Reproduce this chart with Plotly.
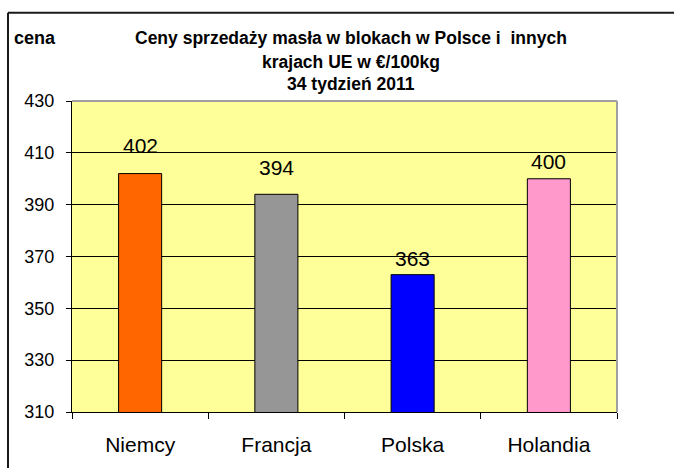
import plotly.graph_objects as go

# ---- data ----
categories = ["Niemcy", "Francja", "Polska", "Holandia"]
prices = [402, 394, 363, 400]
bar_colors = ["#FF6600", "#969696", "#0000FF", "#FF99CC"]
y_ticks = [310, 330, 350, 370, 390, 410, 430]
title_lines = ["Ceny sprzedaży masła w blokach w Polsce i  innych",
               "krajach UE w €/100kg",
               "34 tydzień 2011"]
y_label = "cena"

# ---- style ----
W, H = 674, 468
# plot area in screen pixels
PX0, PX1, PY0, PY1 = 72, 617, 101, 416
ML, MT = PX0, PY0
MR, MB = W - PX1, H - PY1
PW, PH = W - ML - MR, H - MT - MB
FONT = "Liberation Sans, Arial, sans-serif"
label_shift = [15, 13, 3, 4]


def px_x(px):  # screen px -> paper
    return (px - ML) / PW


def px_y(py):
    return (MT + PH - py) / PH


fig = go.Figure()
fig.add_trace(go.Bar(
    x=categories, y=prices,
    marker=dict(color=bar_colors, line=dict(color="#000000", width=1)),
    hoverinfo="x+y",
))

annotations = []
for c, v, s in zip(categories, prices, label_shift):
    annotations.append(dict(x=c, y=v, xref="x", yref="y", text=str(v),
                            showarrow=False, yanchor="bottom", yshift=s,
                            font=dict(family=FONT, size=21, color="#000000")))

title_y = [37, 61, 84]
for t, yy in zip(title_lines, title_y):
    annotations.append(dict(x=px_x(351), y=px_y(yy), xref="paper", yref="paper",
                            text="<b>" + t + "</b>", showarrow=False,
                            xanchor="center", yanchor="middle",
                            font=dict(family=FONT, size=17.5, color="#000000")))
annotations.append(dict(x=px_x(12), y=px_y(37), xref="paper", yref="paper",
                        text="<b>" + y_label + "</b>", showarrow=False,
                        xanchor="left", yanchor="middle",
                        font=dict(family=FONT, size=18, color="#000000")))

shapes = [
    # outer frame (top & left visible)
    dict(type="line", xref="paper", yref="paper",
         x0=px_x(8), y0=px_y(11.5), x1=px_x(690), y1=px_y(11.5),
         line=dict(color="#1a1a1a", width=2)),
    dict(type="line", xref="paper", yref="paper",
         x0=px_x(8), y0=px_y(11.5), x1=px_x(8), y1=px_y(490),
         line=dict(color="#1a1a1a", width=2)),
    # plot area top & right border (grey)
    dict(type="line", xref="paper", yref="paper", x0=0, y0=1, x1=1, y1=1,
         line=dict(color="#A0A0A0", width=2), layer="above"),
    dict(type="line", xref="paper", yref="paper", x0=1, y0=0, x1=1, y1=1,
         line=dict(color="#A0A0A0", width=2), layer="above"),
]

fig.update_layout(
    width=W, height=H,
    margin=dict(l=ML, r=MR, t=MT, b=MB, pad=0),
    paper_bgcolor="#FFFFFF",
    plot_bgcolor="#FFFF99",
    showlegend=False,
    bargap=0.684,
    annotations=annotations,
    shapes=shapes,
    font=dict(family=FONT, color="#000000"),
)
fig.update_xaxes(
    type="category",
    showline=True, linecolor="#000000", linewidth=1,
    ticks="outside", ticklen=6, tickcolor="#000000", tickwidth=1,
    tickson="boundaries",
    showgrid=False,
    tickfont=dict(family=FONT, size=21, color="#000000"),
    ticklabelstandoff=14,
)
fig.update_yaxes(
    range=[310, 430], tickvals=y_ticks,
    showline=True, linecolor="#000000", linewidth=1,
    ticks="outside", ticklen=5, tickcolor="#000000", tickwidth=1,
    showgrid=True, gridcolor="#000000", gridwidth=1,
    zeroline=False,
    tickfont=dict(family=FONT, size=18, color="#000000"),
    ticklabelstandoff=8,
)

fig.write_html(
    "out.html",
    config={"displayModeBar": False},
    post_script="document.body.style.margin='0';document.body.style.overflow='hidden';",
)
